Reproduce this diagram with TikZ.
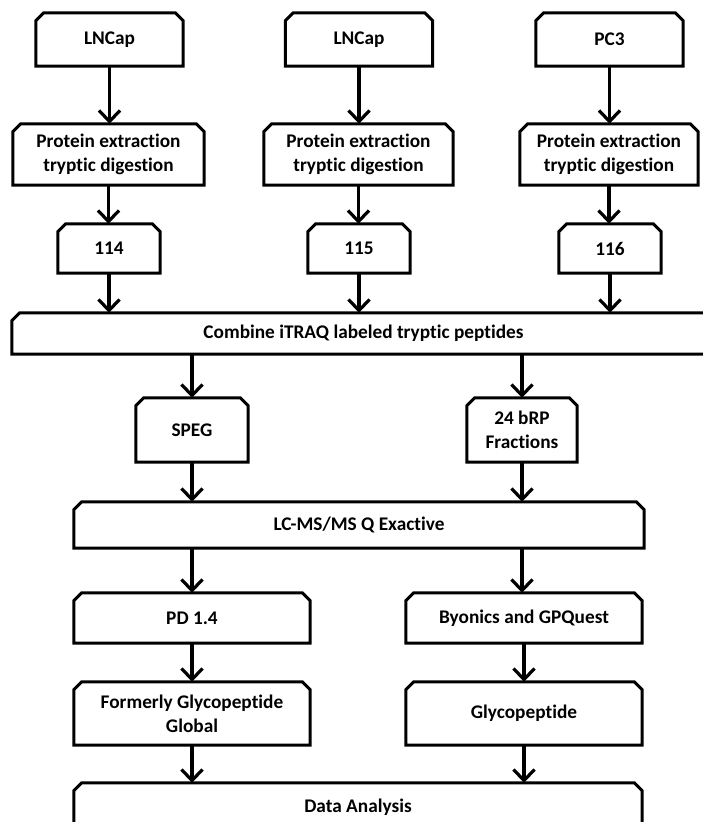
\documentclass[tikz,border=0pt]{standalone}
\usepackage{fontspec}
\setmainfont{Carlito}[RawFeature=-liga]
\usetikzlibrary{arrows.meta}
\tikzset{
  bx/.style={rectangle, inner sep=0pt, align=center, font=\bfseries\fontsize{19.3}{24}\selectfont},
  arr/.style={line width=3.2pt, -{Straight Barb[length=11pt,width=21pt,line width=3.2pt]}},
  outline/.style={line width=3pt, line join=miter}
}
\newcommand\chbox[1]{\draw[outline] (#1.south west) -- ([yshift=-8pt]#1.north west) -- ([xshift=8pt]#1.north west) -- ([xshift=-8pt]#1.north east) -- ([yshift=-8pt]#1.north east) -- (#1.south east) -- cycle;}
\begin{document}
\begin{tikzpicture}[x=1pt,y=-1pt]
\useasboundingbox (0,0) rectangle (703,822);
\clip (0,0) rectangle (703,822);
% top row
\node[bx, minimum width=147pt, minimum height=53pt] (a1) at (109.5,39.5) {LNCap};
\node[bx, minimum width=147pt, minimum height=53pt] (a2) at (359,39.5) {LNCap};
\node[bx, minimum width=147pt, minimum height=53pt] (a3) at (609.5,39.5) {PC3};
% protein
\node[bx, minimum width=191pt, minimum height=61pt] (p1) at (108.5,154.5) {Protein extraction\\tryptic digestion};
\node[bx, minimum width=189pt, minimum height=61pt] (p2) at (358.5,154.5) {Protein extraction\\tryptic digestion};
\node[bx, minimum width=178pt, minimum height=61pt] (p3) at (609,154.5) {Protein extraction\\tryptic digestion};
% labels
\node[bx, minimum width=102pt, minimum height=49pt] (t1) at (109,248.5) {114};
\node[bx, minimum width=102pt, minimum height=49pt] (t2) at (359,248.5) {115};
\node[bx, minimum width=102pt, minimum height=49pt] (t3) at (610,248.5) {116};
% combine
\node[bx, minimum width=703pt, minimum height=41pt] (comb) at (363.5,333.5) {Combine iTRAQ labeled tryptic peptides};
% speg / brp
\node[bx, minimum width=112pt, minimum height=64pt] (speg) at (192,430) {SPEG};
\node[bx, minimum width=110pt, minimum height=64pt] (brp) at (522,430) {24 bRP\\Fractions};
% lcms
\node[bx, minimum width=570pt, minimum height=46pt] (lc) at (359,525) {LC-MS/MS Q Exactive};
% software
\node[bx, minimum width=236pt, minimum height=50pt] (pd) at (192,618) {PD 1.4};
\node[bx, minimum width=236pt, minimum height=50pt] (by) at (524,618) {Byonics and GPQuest};
% results
\node[bx, minimum width=236pt, minimum height=63pt] (fg) at (192,713.5) {Formerly Glycopeptide\\Global};
\node[bx, minimum width=236pt, minimum height=63pt] (gp) at (524,713.5) {Glycopeptide};
% data analysis
\node[bx, minimum width=568pt, minimum height=49pt] (da) at (358,807.5) {Data Analysis};
\foreach \n in {a1,a2,a3,p1,p2,p3,t1,t2,t3,comb,speg,brp,lc,pd,by,fg,gp,da} {\chbox{\n}}
% arrows
\draw[arr] (a1.south) -- (a1.south |- p1.north);
\draw[arr] (a2.south) -- (a2.south |- p2.north);
\draw[arr] (a3.south) -- (a3.south |- p3.north);
\draw[arr] (p1.south) -- (p1.south |- t1.north);
\draw[arr] (p2.south) -- (p2.south |- t2.north);
\draw[arr] (p3.south) -- (p3.south |- t3.north);
\draw[arr] (t1.south) -- (t1.south |- comb.north);
\draw[arr] (t2.south) -- (t2.south |- comb.north);
\draw[arr] (t3.south) -- (t3.south |- comb.north);
\draw[arr] (speg.north |- comb.south) -- (speg.north);
\draw[arr] (brp.north |- comb.south) -- (brp.north);
\draw[arr] (speg.south) -- (speg.south |- lc.north);
\draw[arr] (brp.south) -- (brp.south |- lc.north);
\draw[arr] (pd.north |- lc.south) -- (pd.north);
\draw[arr] (brp.south |- lc.south) -- (brp.south |- by.north);
\draw[arr] (pd.south) -- (pd.south |- fg.north);
\draw[arr] (by.south) -- (by.south |- gp.north);
\draw[arr] (fg.south) -- (fg.south |- da.north);
\draw[arr] (gp.south) -- (gp.south |- da.north);
\end{tikzpicture}
\end{document}
